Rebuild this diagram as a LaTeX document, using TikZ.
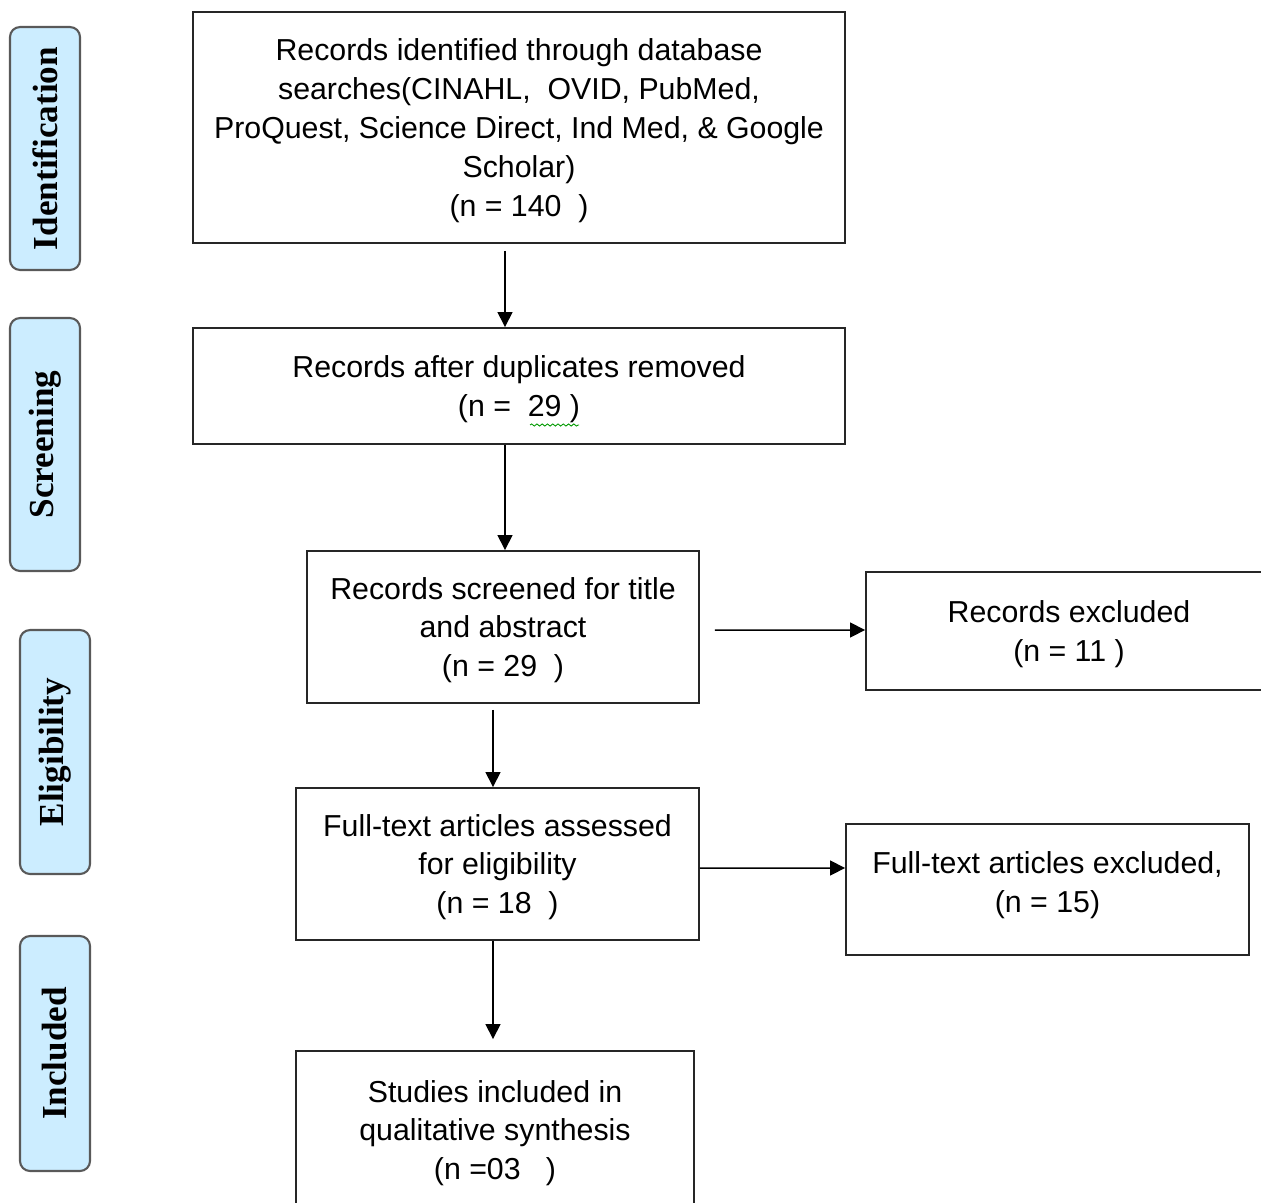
\documentclass[tikz,border=0pt]{standalone}
\usepackage{fontspec}
\setmainfont{Liberation Sans}
\newfontfamily\stagefont{Liberation Serif}
\usetikzlibrary{arrows.meta,decorations.pathmorphing}

\begin{document}
\begin{tikzpicture}[x=0.02cm,y=-0.02cm,
	stagebox/.style={draw=black!65,line width=1.2pt,fill=stagefill,rounded corners=0.2cm,
		rotate=90,minimum height=1.4cm,inner sep=0pt,
		font=\stagefont\bfseries\fontsize{20}{24}\selectfont},
	flowbox/.style={draw=black!85,line width=1.1pt,inner sep=0pt,align=center,text depth=0pt,
		font=\fontsize{17.25}{22.1}\selectfont},
	arr/.style={line width=0.85pt,-{Triangle[length=0.3cm,width=0.3cm]}}]
	\definecolor{stagefill}{HTML}{CCEDFF}
	\clip (0,0) rectangle (1261,1203);

	% Stage labels on the left
	\node[stagebox,minimum width=4.86cm] (ident) at (45,148.5) {Identification};
	\node[stagebox,minimum width=5.06cm] (screen) at (45,444.5) {Screening};
	\node[stagebox,minimum width=4.88cm] (elig) at (55,752) {Eligibility};
	\node[stagebox,minimum width=4.7cm] (incl) at (55,1053.5) {Included};

	% Main column of boxes
	\node[flowbox,minimum width=13.04cm,minimum height=4.62cm] (found) at (519,127.5)
		{Records identified through database\\ searches(CINAHL,\ \ OVID, PubMed,\\
		ProQuest, Science Direct, Ind Med, \& Google\\ Scholar)\\ (n = 140\ \ )};
	\node[flowbox,minimum width=13.04cm,minimum height=2.32cm] (nodup) at (519,386)
		{Records after duplicates removed\\ (n =\ \ 29 )};
	\node[flowbox,minimum width=7.84cm,minimum height=3.04cm,text depth=-0.08cm] (screened) at (503,627)
		{Records screened for title\\ and abstract\\ (n = 29\ \ )};
	\node[flowbox,minimum width=8.06cm,minimum height=3.04cm] (fulltext) at (497.5,864)
		{Full-text articles assessed\\ for eligibility\\ (n = 18\ \ )};
	\node[flowbox,minimum width=7.96cm,minimum height=3.16cm] (included) at (495,1130)
		{Studies included in\\ qualitative synthesis\\ (n =03\ \ \ )};

	% Boxes for excluded records
	\node[flowbox,minimum width=8.12cm,minimum height=2.36cm] (recexcl) at (1069,631)
		{Records excluded\\ (n = 11 )};
	\node[flowbox,minimum width=8.06cm,minimum height=2.62cm,text depth=0.3cm] (ftexcl) at (1047.5,889.5)
		{Full-text articles excluded,\\ (n = 15)};

	% Wavy mark under the count
	\draw[green!60!black,line width=0.5pt,decorate,
		decoration={snake,amplitude=0.6pt,segment length=3pt}] (530,425) -- (579,425);

	% Arrows down the main column
	\draw[arr] ([yshift=-0.14cm]found.south -| 505,0) -- (nodup.north -| 505,0);
	\draw[arr] (nodup.south -| 505,0) -- (screened.north -| 505,0);
	\draw[arr] ([yshift=-0.12cm]screened.south -| 493,0) -- (fulltext.north -| 493,0);
	\draw[arr] (fulltext.south -| 493,0) -- ([yshift=0.22cm]included.north -| 493,0);

	% Arrows to the excluded boxes
	\draw[arr] ([xshift=0.3cm,yshift=-0.06cm]screened.east) -- (recexcl.west |- 0,630);
	\draw[arr] ([yshift=-0.08cm]fulltext.east) -- (ftexcl.west |- 0,868);
\end{tikzpicture}
\end{document}
